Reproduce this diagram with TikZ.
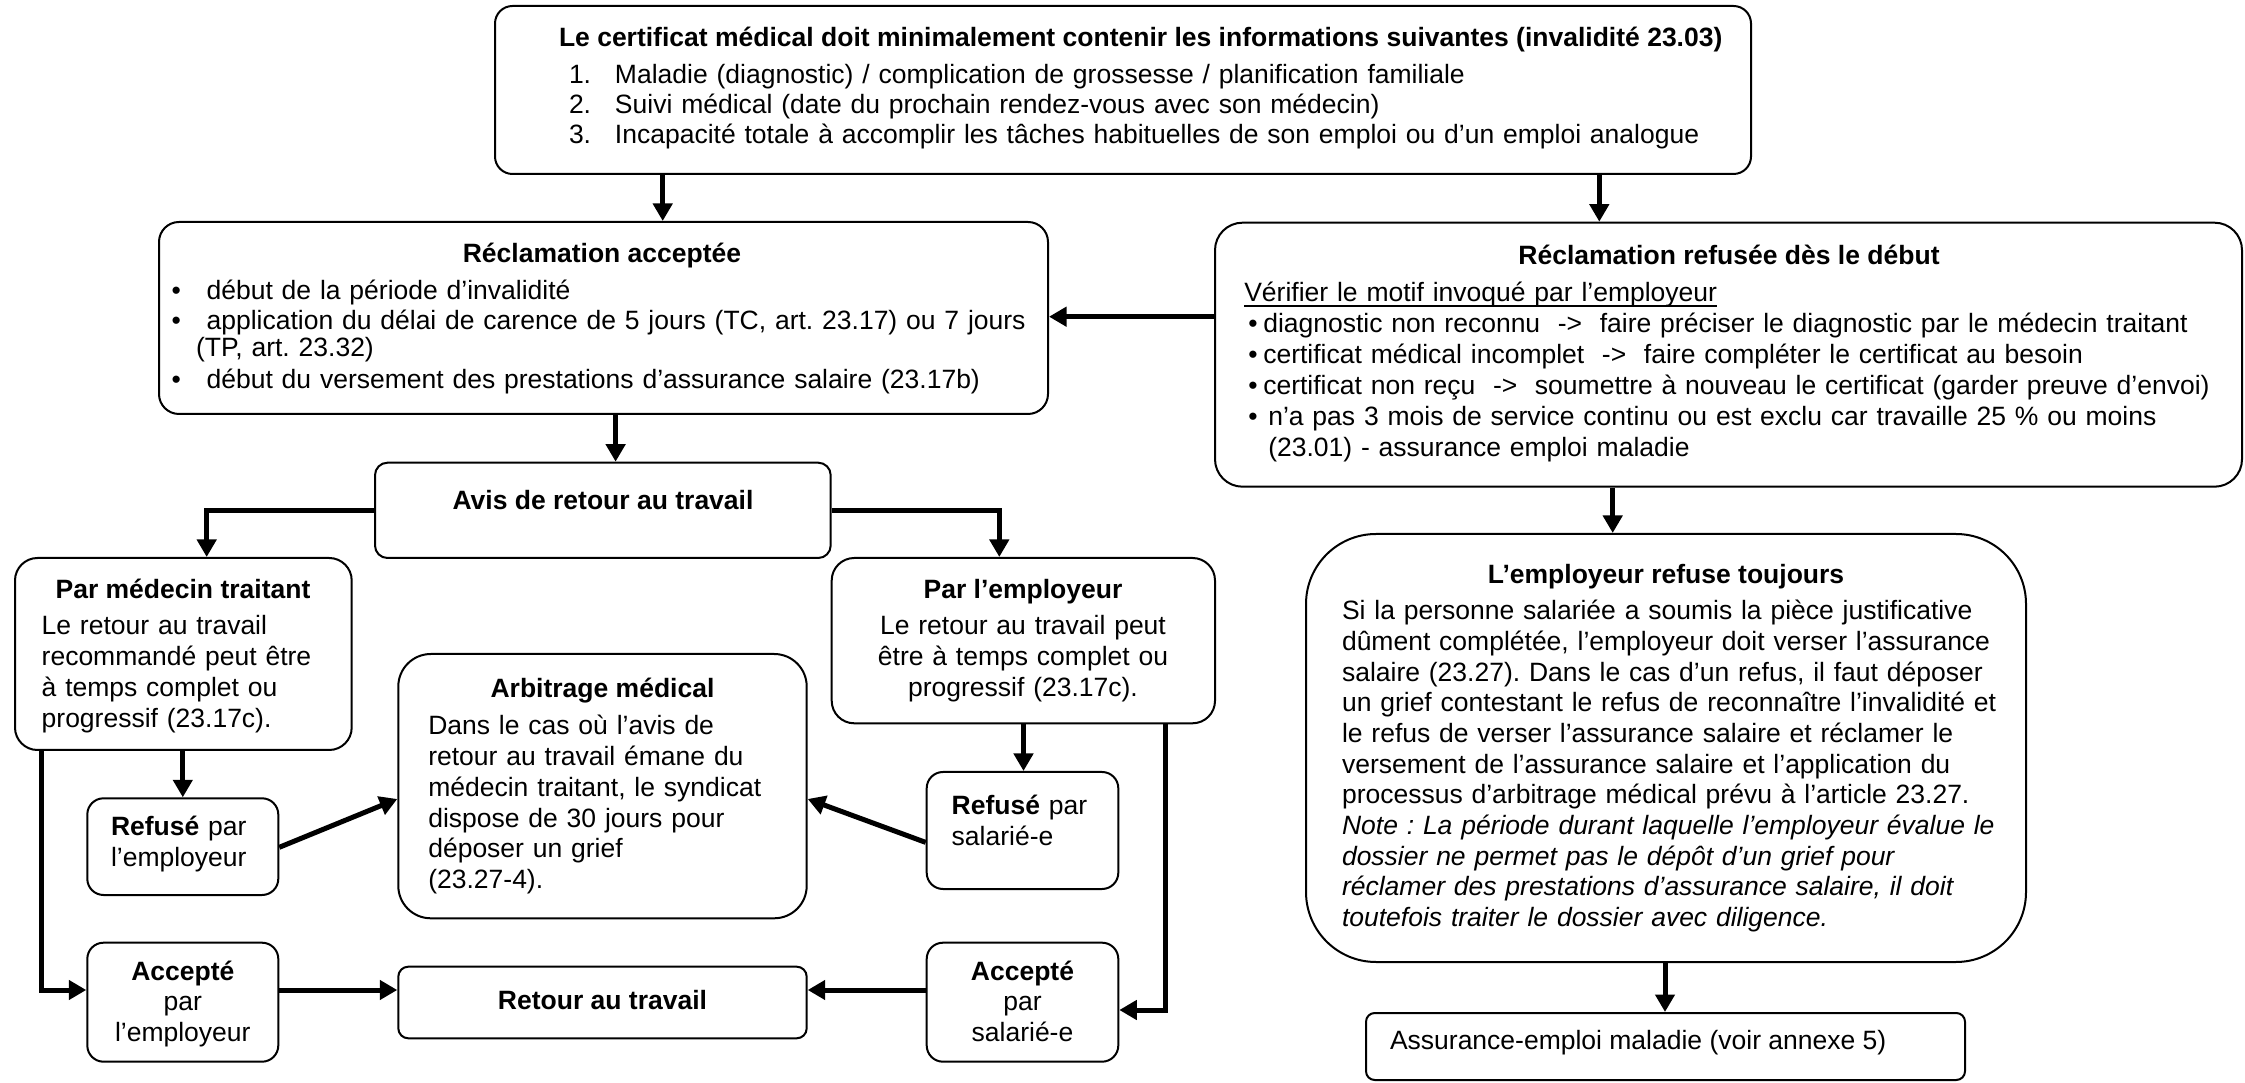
\documentclass[tikz,border=0pt]{standalone}
\usepackage{fontspec}
\setmainfont{Liberation Sans}
\usetikzlibrary{fit,arrows.meta}
\frenchspacing
\newcommand\myul[1]{\setbox0\hbox{#1}\leavevmode\rlap{\rule[-2.05pt]{\wd0}{0.7pt}}\box0}
\tikzset{
  bx/.style={draw, line width=0.8pt, inner sep=0pt, rounded corners=#1},
  tx/.style={inner sep=0pt, outer sep=0pt, font=\fontsize{10.6}{12.3}\selectfont},
  arr/.style={line width=2pt, -{Triangle[length=7pt,width=7.6pt]}},
}
\begin{document}
\begin{tikzpicture}[x=0.4pt, y=-0.4pt]
\useasboundingbox (0,0) rectangle (2245,1083);
% boxes
\node[bx=7pt, fit={(495,6) (1751,174)}] (cert) {};
\node[bx=8pt, fit={(159,222) (1048,414)}] (acc) {};
\node[bx=11pt, fit={(1215,222.7) (2242,486.7)}] (ref) {};
\node[bx=5pt, fit={(375,462.7) (830.7,558)}] (avis) {};
\node[bx=9pt, fit={(15,558) (351.7,750)}] (med) {};
\node[bx=9pt, fit={(831.7,558) (1215,723.3)}] (emp) {};
\node[bx=13pt, fit={(398.3,654) (806.7,918.3)}] (arb) {};
\node[bx=6.5pt, fit={(87.3,798.3) (278.3,895)}] (refE) {};
\node[bx=6.5pt, fit={(926.7,772) (1118.3,889)}] (refS) {};
\node[bx=6.5pt, fit={(87.3,942.7) (278.3,1061.7)}] (accE) {};
\node[bx=6.5pt, fit={(926.7,942.7) (1118.3,1061.7)}] (accS) {};
\node[bx=4pt, fit={(398.3,966.7) (806.7,1038.3)}] (ret) {};
\node[bx=28pt, fit={(1306,534) (2026,962)}] (touj) {};
\node[bx=3.5pt, fit={(1366,1013) (1965,1080)}] (assur) {};

% texts
\node[tx, anchor=base west] (certT) at (559,46.7) {\textbf{Le certificat médical doit minimalement contenir les informations suivantes (invalidité 23.03)}};
\node[tx, anchor=base west, text width=480pt, align=left, font=\fontsize{10.6}{12}\selectfont] (certL) at (569,84)
  {\makebox[18.4pt][l]{1.}Maladie (diagnostic) / complication de grossesse / planification familiale\\
   \makebox[18.4pt][l]{2.}Suivi médical (date du prochain rendez-vous avec son médecin)\\
   \makebox[18.4pt][l]{3.}Incapacité totale à accomplir les tâches habituelles de son emploi ou d’un emploi analogue};

\node[tx, anchor=base] (accT) at (602,263) {\textbf{Réclamation acceptée}};
\node[tx, anchor=base west, text width=400pt, align=left, font=\fontsize{10.6}{12}\selectfont] (accL) at (171.6,300)
  {\makebox[14pt][l]{•}début de la période d’invalidité\\
   \makebox[14pt][l]{•}application du délai de carence de 5 jours (TC, art. 23.17) ou 7 jours\\[-1.2pt]
   \hspace*{9.8pt}(TP, art. 23.32)\\[0.8pt]
   \makebox[14pt][l]{•}début du versement des prestations d’assurance salaire (23.17b)};

\node[tx, anchor=base] (refT) at (1729,265) {\textbf{Réclamation refusée dès le début}};
\node[tx, anchor=base west, text width=480pt, align=left, font=\fontsize{10.6}{12.4}\selectfont] (refL) at (1244.3,301.7)
  {\myul{Vérifier le motif invoqué par l’employeur}\\
   \hspace*{1.6pt}\makebox[6pt][l]{•}diagnostic non reconnu\ \ ->\ \ faire préciser le diagnostic par le médecin traitant\\
   \hspace*{1.6pt}\makebox[6pt][l]{•}certificat médical incomplet\ \ ->\ \ faire compléter le certificat au besoin\\
   \hspace*{1.6pt}\makebox[6pt][l]{•}certificat non reçu\ \ ->\ \ soumettre à nouveau le certificat (garder preuve d’envoi)\\
   \hspace*{1.6pt}\makebox[8pt][l]{•}n’a pas 3 mois de service continu ou est exclu car travaille 25 \% ou moins\\
   \hspace*{9.6pt}(23.01) - assurance emploi maladie};

\node[tx, anchor=base] (avisT) at (603,510) {\textbf{Avis de retour au travail}};

\node[tx, anchor=base] (medT) at (183,599) {\textbf{Par médecin traitant}};
\node[tx, anchor=base west, text width=120pt, align=left] (medL) at (41.7,635)
  {Le retour au travail\\recommandé peut être\\à temps complet ou\\progressif (23.17c).};

\node[tx, anchor=base] (empT) at (1023,599) {\textbf{Par l’employeur}};
\node[tx, anchor=base, text width=140pt, align=center] (empL) at (1023,635)
  {Le retour au travail peut\\être à temps complet ou\\progressif (23.17c).};

\node[tx, anchor=base] (arbT) at (602.5,698) {\textbf{Arbitrage médical}};
\node[tx, anchor=base west, text width=150pt, align=left] (arbL) at (428.3,735)
  {Dans le cas où l’avis de\\retour au travail émane du\\médecin traitant, le syndicat\\dispose de 30 jours pour\\déposer un grief\\(23.27-4).};

\node[tx, anchor=base west, text width=70pt, align=left, font=\fontsize{10.6}{12.2}\selectfont] (refEL) at (111,836)
  {\textbf{Refusé} par\\l’employeur};
\node[tx, anchor=base west, text width=70pt, align=left, font=\fontsize{10.6}{12.2}\selectfont] (refSL) at (951.7,815)
  {\textbf{Refusé} par\\salarié-e};
\node[tx, anchor=base, text width=70pt, align=center, font=\fontsize{10.6}{12.2}\selectfont] (accEL) at (182.8,980)
  {\textbf{Accepté}\\par\\l’employeur};
\node[tx, anchor=base, text width=70pt, align=center, font=\fontsize{10.6}{12.2}\selectfont] (accSL) at (1022.5,980)
  {\textbf{Accepté}\\par\\salarié-e};
\node[tx, anchor=base] (retT) at (602.5,1009) {\textbf{Retour au travail}};

\node[tx, anchor=base] (toujT) at (1666,584) {\textbf{L’employeur refuse toujours}};
\node[tx, anchor=base west, text width=290pt, align=left, font=\fontsize{10.6}{12.25}\selectfont] (toujL) at (1342,620)
  {Si la personne salariée a soumis la pièce justificative\\
   dûment complétée, l’employeur doit verser l’assurance\\
   salaire (23.27). Dans le cas d’un refus, il faut déposer\\
   un grief contestant le refus de reconnaître l’invalidité et\\
   le refus de verser l’assurance salaire et réclamer le\\
   versement de l’assurance salaire et l’application du\\
   processus d’arbitrage médical prévu à l’article 23.27.\\
   \textit{Note : La période durant laquelle l’employeur évalue le}\\
   \textit{dossier ne permet pas le dépôt d’un grief pour}\\
   \textit{réclamer des prestations d’assurance salaire, il doit}\\
   \textit{toutefois traiter le dossier avec diligence.}};

\node[tx, anchor=base west] (assurT) at (1390,1049) {Assurance-emploi maladie (voir annexe 5)};

% helper coordinates for connector positions
\coordinate (xa) at (662.7,0);
\coordinate (xb) at (1599.3,0);
\coordinate (xc) at (615.6,0);
\coordinate (xd) at (206.7,0);
\coordinate (xe) at (999.3,0);
\coordinate (xf) at (1612.7,0);
\coordinate (xg) at (1665,0);
\coordinate (xh) at (182.8,0);
\coordinate (xi) at (41.7,0);
\coordinate (xj) at (1023.5,0);
\coordinate (xk) at (1165.7,0);
\coordinate (ya) at (0,316.7);
\coordinate (yb) at (0,511);
\coordinate (yc) at (0,990);
\coordinate (yd) at (0,847.3);
\coordinate (ye) at (0,799);
\coordinate (yf) at (0,842.4);
\coordinate (yg) at (0,1010);

% connectors
\draw[arr] (xa |- cert.south) -- (xa |- acc.north);
\draw[arr] (xb |- cert.south) -- (xb |- ref.north);
\draw[arr] (ref.west |- ya) -- (acc.east |- ya);
\draw[arr] (xc |- acc.south) -- (xc |- avis.north);
\draw[arr] (avis.west |- yb) -| (xd |- med.north);
\draw[arr] (avis.east |- yb) -| (xe |- emp.north);
\draw[arr] (xf |- ref.south) -- (xf |- touj.north);
\draw[arr] (xg |- touj.south) -- (xg |- assur.north);
\draw[arr] (xh |- med.south) -- (xh |- refE.north);
\draw[arr] (xi |- med.south) |- (accE.west |- yc);
\draw[arr] (refE.east |- yd) -- (arb.west |- ye);
\draw[arr] (refS.west |- yf) -- (arb.east |- ye);
\draw[arr] (accE.east |- yc) -- (ret.west |- yc);
\draw[arr] (accS.west |- yc) -- (ret.east |- yc);
\draw[arr] (xj |- emp.south) -- (xj |- refS.north);
\draw[arr] (xk |- emp.south) |- (accS.east |- yg);
\end{tikzpicture}
\end{document}
